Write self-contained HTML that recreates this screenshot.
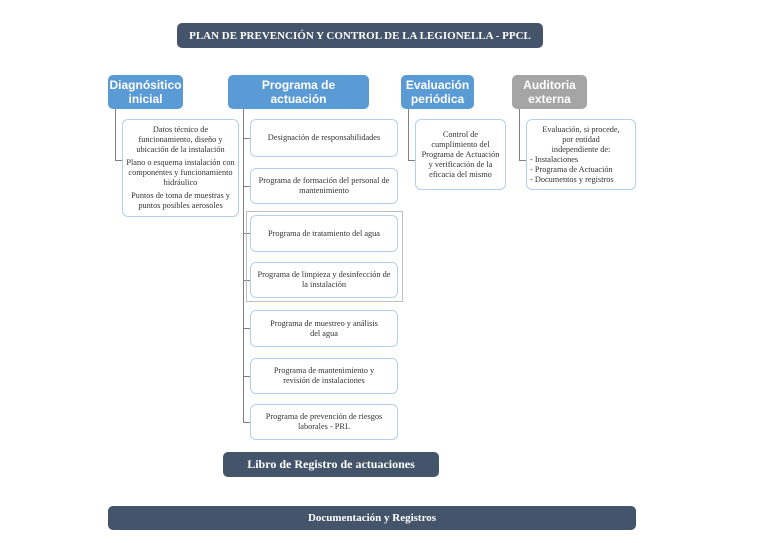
<!DOCTYPE html>
<html><head><meta charset="utf-8"><style>
body{margin:0;width:768px;height:543px;background:#fff;position:relative;overflow:hidden;font-family:"Liberation Serif",serif;}
div{position:absolute;box-sizing:border-box;}
.dark{background:#44546a;color:#fff;font-weight:bold;border-radius:5px;display:flex;align-items:center;justify-content:center;font-size:11px;}
.hd{color:#fff;font-weight:bold;border-radius:5px;display:flex;align-items:center;justify-content:center;text-align:center;font-size:12px;line-height:14px;font-family:"Liberation Sans",sans-serif;}
.bx{border:1px solid #b4d0ec;border-radius:6px;background:#fff;display:flex;align-items:center;justify-content:center;text-align:center;font-size:8.3px;line-height:10px;color:#333;padding:0 3px;}
.l{background:#7f7f7f;}
</style></head><body>
<div class="dark" style="left:177px;top:23px;width:366px;height:25px;">PLAN DE PREVENCIÓN Y CONTROL DE LA LEGIONELLA - PPCL</div>

<div class="hd" style="left:108px;top:75px;width:75px;height:34px;background:#5b9bd5;">Diagnósitico<br>inicial</div>
<div class="hd" style="left:228px;top:75px;width:141px;height:34px;background:#5b9bd5;">Programa de<br>actuación</div>
<div class="hd" style="left:401px;top:75px;width:73px;height:34px;background:#5b9bd5;">Evaluación<br>periódica</div>
<div class="hd" style="left:512px;top:75px;width:75px;height:34px;background:#a5a5a5;">Auditoria<br>externa</div>

<!-- connectors -->
<div class="l" style="left:115px;top:109px;width:1px;height:52px;"></div>
<div class="l" style="left:115px;top:160px;width:8px;height:1px;"></div>
<div class="l" style="left:408px;top:109px;width:1px;height:52px;"></div>
<div class="l" style="left:408px;top:160px;width:8px;height:1px;"></div>
<div class="l" style="left:519px;top:109px;width:1px;height:52px;"></div>
<div class="l" style="left:519px;top:160px;width:8px;height:1px;"></div>
<div class="l" style="left:243px;top:109px;width:1px;height:314px;"></div>
<div class="l" style="left:243px;top:138px;width:8px;height:1px;"></div>
<div class="l" style="left:243px;top:186px;width:8px;height:1px;"></div>
<div class="l" style="left:243px;top:233px;width:8px;height:1px;"></div>
<div class="l" style="left:243px;top:280px;width:8px;height:1px;"></div>
<div class="l" style="left:243px;top:328px;width:8px;height:1px;"></div>
<div class="l" style="left:243px;top:376px;width:8px;height:1px;"></div>
<div class="l" style="left:243px;top:422px;width:8px;height:1px;"></div>

<div class="bx" style="left:122px;top:119px;width:117px;height:98px;flex-direction:column;gap:3px;"><span>Datos técnico de funcionamiento, diseño y ubicación de la instalación</span><span>Plano o esquema instalación con componentes y funcionamiento hidráulico</span><span>Puntos de toma de muestras y puntos posibles aerosoles</span></div>

<div style="left:246px;top:211px;width:157px;height:91px;border:1px solid #bfbfbf;"></div>
<div class="bx" style="left:250px;top:119px;width:148px;height:38px;">Designación de responsabilidades</div>
<div class="bx" style="left:250px;top:168px;width:148px;height:36px;">Programa de formación del personal de mantenimiento</div>
<div class="bx" style="left:250px;top:215px;width:148px;height:37px;">Programa de tratamiento del agua</div>
<div class="bx" style="left:250px;top:262px;width:148px;height:36px;">Programa de limpieza y desinfección de la instalación</div>
<div class="bx" style="left:250px;top:310px;width:148px;height:37px;">Programa de muestreo y análisis<br>del agua</div>
<div class="bx" style="left:250px;top:358px;width:148px;height:36px;">Programa de mantenimiento y<br>revisión de instalaciones</div>
<div class="bx" style="left:250px;top:404px;width:148px;height:36px;">Programa de prevención de riesgos laborales - PRL</div>

<div class="bx" style="left:415px;top:119px;width:91px;height:71px;">Control de cumplimiento del Programa de Actuación y verificación de la eficacia del mismo</div>
<div class="bx" style="left:526px;top:119px;width:110px;height:71px;flex-direction:column;"><span>Evaluación, si procede,<br>por entidad<br>independiente de:</span><span style="align-self:flex-start;text-align:left;">- Instalaciones<br>- Programa de Actuación<br>- Documentos y registros</span></div>

<div class="dark" style="left:223px;top:452px;width:216px;height:25px;font-size:12px;">Libro de Registro de actuaciones</div>
<div class="dark" style="left:108px;top:506px;width:528px;height:24px;">Documentación y Registros</div>
</body></html>
